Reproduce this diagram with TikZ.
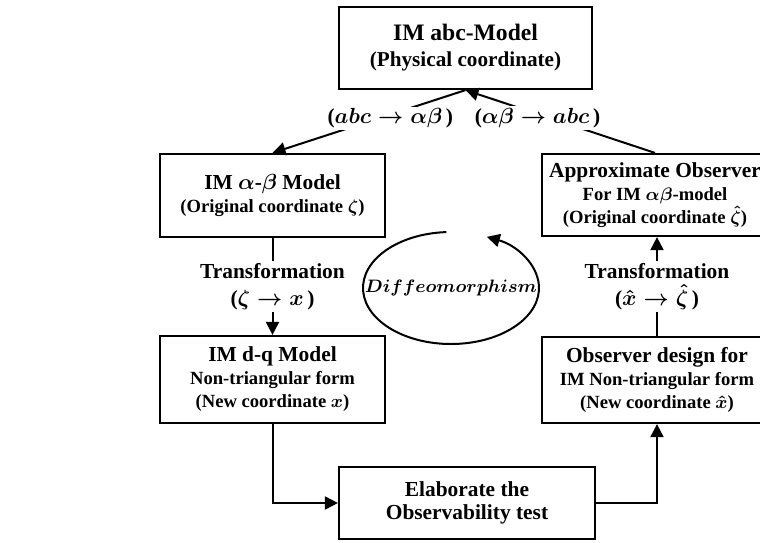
\documentclass[tikz,border=0pt]{standalone}
\usepackage{fontspec}
\setmainfont{Liberation Serif}
\usepackage{amsmath}
\usetikzlibrary{arrows.meta}
\newcommand{\smalltxt}{\fontsize{9.3}{11.5}\selectfont}
\tikzset{
  block/.style={draw, line width=1.1pt, align=center, inner sep=2pt,
    font=\bfseries\boldmath\fontsize{10.7}{11.5}\selectfont},
  flow/.style={line width=1pt, -{Triangle[length=6.5pt,width=6.5pt]}},
  tag/.style={fill=white, align=center, inner sep=1pt,
    font=\bfseries\boldmath\fontsize{10.7}{13.5}\selectfont}
}
\begin{document}
\begin{tikzpicture}[x=0.5pt,y=-0.5pt]
  \clip (0,0) rectangle (760,542);
  \node[block, minimum width=126.5pt, minimum height=41pt] (abc) at (465.5,48)
    {\fontsize{11.8}{13.5}\selectfont IM abc-Model\\[1.5pt]\fontsize{10.6}{13.5}\selectfont (Physical coordinate)};
  \node[block, minimum width=112.5pt, minimum height=41.5pt] (ab) at (272.5,195.5)
    {IM $\alpha$-$\beta$ Model\\\smalltxt (Original coordinate $\zeta$)};
  \node[block, minimum width=112.5pt, minimum height=43.5pt] (dq) at (272.5,379.5)
    {IM d-q Model\\\smalltxt Non-triangular form\\\smalltxt (New coordinate $x$)};
  \node[block, minimum width=128pt, minimum height=36pt] (test) at (467,503)
    {Elaborate the\\Observability test};
  \node[block, minimum width=115pt, minimum height=43pt] (obsv) at (657,380)
    {Observer design for\\\smalltxt IM Non-triangular form\\\smalltxt (New coordinate $\hat{x}$)};
  \node[block, minimum width=113pt, minimum height=41pt] (approx) at (655,195)
    {Approximate Observer\\\smalltxt For IM $\alpha\beta$-model\\\smalltxt (Original coordinate $\hat{\zeta}$)};
  \node[font=\boldmath\fontsize{8.6}{10}\selectfont] (diffeo) at (451,288) {$\boldsymbol{Diffeomorphism}$};

  \draw[flow] (abc.south) -- node[tag, pos=0.39, yshift=-2pt] {($abc\rightarrow\alpha\beta$\,)} (ab.north);
  \draw[flow] (approx.north) -- node[tag, pos=0.62, yshift=-2pt] {($\alpha\beta\rightarrow abc$\,)} (abc.south);
  \draw[flow] (ab.south) -- node[tag] {Transformation\\($\zeta\rightarrow x$\,)} (dq.north);
  \draw[flow] (obsv.north) -- node[tag] {Transformation\\($\hat{x}\rightarrow\hat{\zeta}$\,)} (obsv.north |- approx.south);
  \draw[flow] (dq.south) |- (test.west);
  \draw[flow] (test.east) -| (obsv.south);
  \draw[flow] (diffeo.center) ++(93:44pt and 28pt)
    arc[start angle=93, end angle=426, x radius=44pt, y radius=28pt];
\end{tikzpicture}
\end{document}
